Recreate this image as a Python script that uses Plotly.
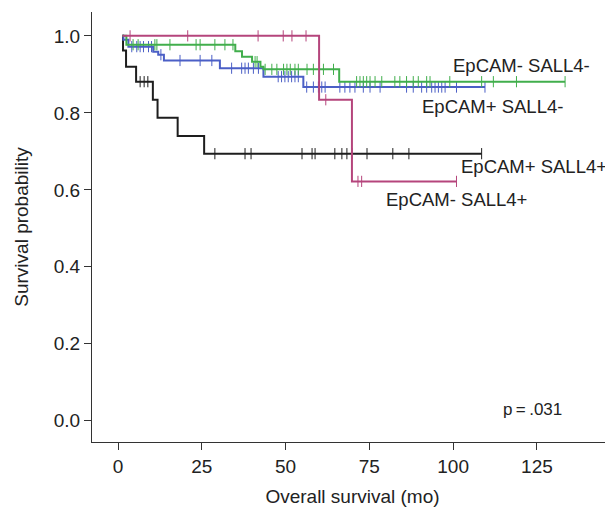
import plotly.graph_objects as go

# ---- data ----
groups = ["EpCAM+ SALL4+", "EpCAM+ SALL4-", "EpCAM- SALL4-", "EpCAM- SALL4+"]
colors = {"EpCAM+ SALL4+": "#1e1e1e", "EpCAM+ SALL4-": "#4b5fc6",
          "EpCAM- SALL4-": "#41ae4c", "EpCAM- SALL4+": "#b5457c"}

black_times = [1.3, 1.5, 2.4, 5.4, 10.4, 11.8, 17.8, 25.7, 108.5]
black_surv = [1.0, 0.962, 0.92, 0.881, 0.834, 0.787, 0.740, 0.694, 0.694]
black_cens = [6.6, 7.8, 8.9, 28.9, 37.9, 39.7, 54.9, 57.9, 58.8, 64.7, 66.8, 68.3,
              69.8, 74.3, 82.0, 86.8, 108.5]

blue_times = [1.3, 1.6, 3.1, 10.5, 12.0, 13.7, 30.4, 43.4, 55.3, 109.5]
blue_surv = [1.0, 0.99, 0.972, 0.959, 0.951, 0.936, 0.916, 0.894, 0.867, 0.867]
blue_cens = [4.1, 5.6, 6.6, 7.6, 9.1, 10.0, 12.8, 18.5, 24.5, 28.0, 33.9, 36.9, 37.9,
             38.9, 40.4, 41.9, 47.8, 48.8, 49.8, 50.8, 51.8, 52.8, 53.8, 56.3, 58.3,
             59.8, 60.8, 61.8, 66.2, 67.7, 69.2, 70.7, 73.2, 75.2, 78.2, 86.1, 88.1,
             90.6, 92.1, 93.6, 94.6, 95.6, 96.6, 97.6, 101.0, 109.5]

green_times = [1.3, 2.5, 35.0, 37.0, 40.0, 42.5, 43.4, 66.0, 133.4]
green_surv = [1.0, 0.977, 0.96, 0.946, 0.933, 0.92, 0.913, 0.881, 0.881]
green_cens = [4.5, 6.0, 11.0, 11.6, 15.5, 23.3, 24.5, 28.9, 31.9, 34.3, 40.9, 41.5,
              43.9, 45.9, 47.4, 49.4, 50.4, 51.4, 52.8, 53.8, 56.4, 58.3, 61.3, 64.3,
              71.2, 72.2, 73.2, 74.2, 75.2, 76.7, 78.7, 82.6, 84.1, 86.1, 88.1, 89.6,
              92.1, 93.1, 99.0, 108.5, 112.0, 118.9, 133.4]

magenta_times = [1.3, 60.0, 69.8, 101.0]
magenta_surv = [1.0, 0.834, 0.622, 0.622]
magenta_cens = [3.6, 20.8, 41.8, 49.3, 51.9, 56.1, 62.0, 71.6, 72.7, 101.0]

series = {
    "EpCAM+ SALL4+": (black_times, black_surv, black_cens),
    "EpCAM+ SALL4-": (blue_times, blue_surv, blue_cens),
    "EpCAM- SALL4-": (green_times, green_surv, green_cens),
    "EpCAM- SALL4+": (magenta_times, magenta_surv, magenta_cens),
}

# label positions (data coords)
label_x = {"EpCAM- SALL4-": 120.4, "EpCAM+ SALL4-": 111.6,
           "EpCAM+ SALL4+": 124.1, "EpCAM- SALL4+": 101.1}
label_y = {"EpCAM- SALL4-": 0.922, "EpCAM+ SALL4-": 0.816,
           "EpCAM+ SALL4+": 0.66, "EpCAM- SALL4+": 0.574}

x_ticks = [0, 25, 50, 75, 100, 125]
y_ticks = [0.0, 0.2, 0.4, 0.6, 0.8, 1.0]
p_text = "p\u2009=\u2009.031"


def step_at(times, surv, t):
    val = surv[0]
    for ti, si in zip(times, surv):
        if ti <= t:
            val = si
    return val


FONT = "Liberation Sans, Arial, sans-serif"
fig = go.Figure()
for g in groups:
    t, s, c = series[g]
    fig.add_trace(go.Scatter(x=t, y=s, mode="lines", line=dict(color=colors[g], width=2, shape="hv"),
                             showlegend=False, hoverinfo="skip"))
    fig.add_trace(go.Scatter(x=c, y=[step_at(t, s, ci) for ci in c], mode="markers",
                             marker=dict(symbol="line-ns", size=8, line=dict(color=colors[g], width=1)),
                             showlegend=False, hoverinfo="skip"))

for g in groups:
    fig.add_annotation(x=label_x[g], y=label_y[g], text=g, showarrow=False,
                       font=dict(family=FONT, size=18.5, color="#222"))
fig.add_annotation(x=133.1, y=0.029, text=p_text, showarrow=False, xanchor="right",
                   font=dict(family=FONT, size=17, color="#222"))

fig.update_layout(
    width=613, height=508,
    margin=dict(l=84, r=8, t=4, b=74),
    paper_bgcolor="white", plot_bgcolor="white",
    font=dict(family=FONT, size=19, color="#222"),
    xaxis=dict(range=[-7.76, 147.7], tickvals=x_ticks, ticks="outside", ticklen=7,
               tickcolor="#333", showline=True, linecolor="#333", linewidth=1,
               showgrid=False, zeroline=False, tickfont=dict(size=19),
               title=dict(text="Overall survival (mo)", font=dict(size=19), standoff=13)),
    yaxis=dict(range=[-0.055, 1.062], tickvals=y_ticks, tickformat=".1f", ticks="outside",
               ticklen=7, tickcolor="#333", showline=True, linecolor="#333", linewidth=1,
               showgrid=False, zeroline=False, tickfont=dict(size=19),
               title=dict(text="Survival probability", font=dict(size=19), standoff=20)),
)
fig.write_html("out.html")
